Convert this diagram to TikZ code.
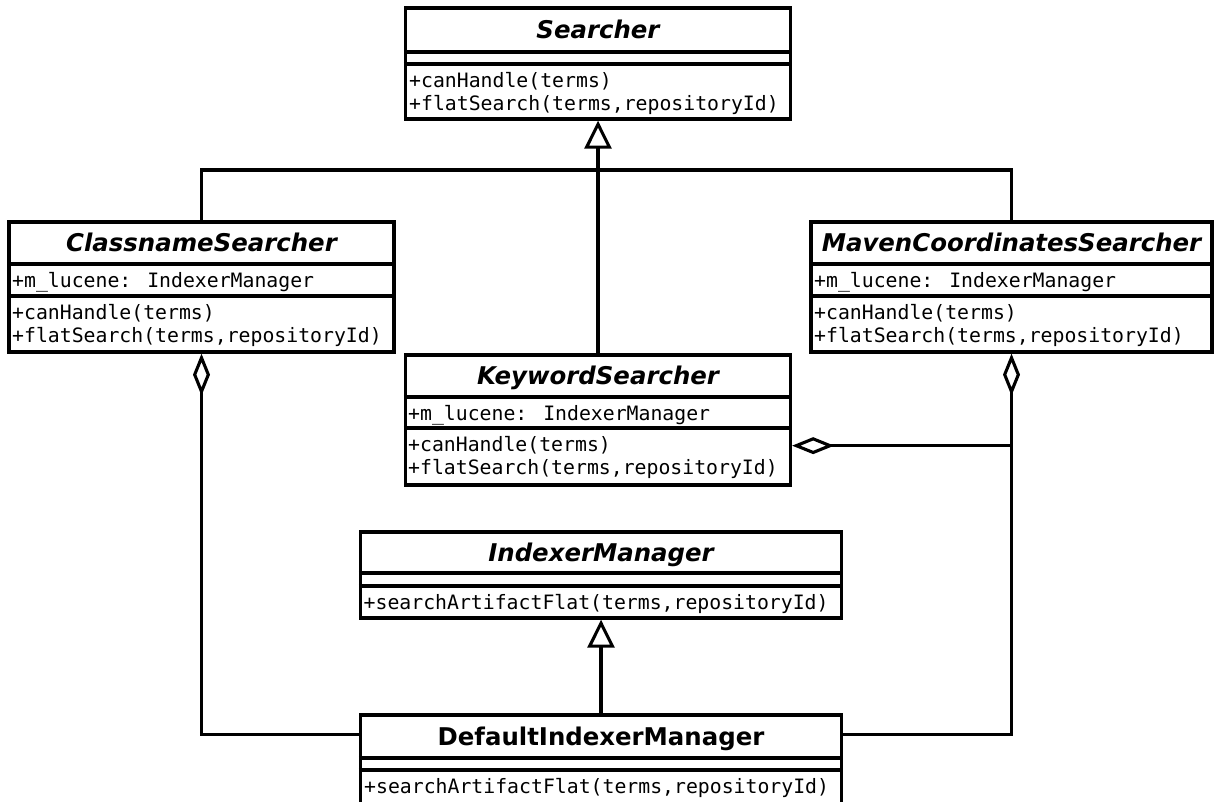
\documentclass[tikz,border=0pt]{standalone}
\usepackage{fontspec}
\setmainfont{DejaVu Sans}
\newfontfamily\memberfont{DejaVu Sans Mono}
\usetikzlibrary{arrows.meta}
\tikzset{
  cls/.style={draw, line width=3.3pt, fill=white, inner sep=0pt},
  sep/.style={line width=3.3pt},
  absname/.style={anchor=base, inner sep=0pt, font=\fontsize{24.4}{28}\selectfont\bfseries\itshape},
  conname/.style={anchor=base, inner sep=0pt, font=\fontsize{24.4}{28}\selectfont\bfseries},
  member/.style={anchor=base west, inner sep=0pt, font=\fontsize{19.8}{24}\selectfont\memberfont},
  conn/.style={line width=3.1pt},
  generalize/.style={conn, -{Triangle[open, length=28pt, width=27pt]}},
  aggregate/.style={conn, {Diamond[open, length=42pt, width=17pt]}-},
}
\begin{document}
\begin{tikzpicture}[x=1pt, y=-1pt]
\useasboundingbox (0,0) rectangle (1214,801);

% Searcher
\node[cls, minimum width=385pt, minimum height=111pt] (S) at (598,63.5) {};
\draw[sep] (S.west |- 0,52) -- (S.east |- 0,52);
\draw[sep] (S.west |- 0,64) -- (S.east |- 0,64);
\node[absname] (S-name) at (598,38.7) {Searcher};
\node[member] (S-m1) at (409,87) {+canHandle(terms)};
\node[member] (S-m2) at (409,110) {+flatSearch(terms,repositoryId)};

% ClassnameSearcher
\node[cls, minimum width=385pt, minimum height=130pt] (CS) at (201.5,287) {};
\draw[sep] (CS.west |- 0,264) -- (CS.east |- 0,264);
\draw[sep] (CS.west |- 0,296) -- (CS.east |- 0,296);
\node[absname] (CS-name) at (201.5,251.7) {ClassnameSearcher};
\node[member] (CS-a1) at (12,287) {+m\_lucene: IndexerManager};
\node[member] (CS-m1) at (12,319) {+canHandle(terms)};
\node[member] (CS-m2) at (12,342) {+flatSearch(terms,repositoryId)};

% MavenCoordinatesSearcher
\node[cls, minimum width=401pt, minimum height=130pt] (MS) at (1011.5,287) {};
\draw[sep] (MS.west |- 0,264) -- (MS.east |- 0,264);
\draw[sep] (MS.west |- 0,296) -- (MS.east |- 0,296);
\node[absname] (MS-name) at (1011.5,251.7) {MavenCoordinatesSearcher};
\node[member] (MS-a1) at (814,287) {+m\_lucene: IndexerManager};
\node[member] (MS-m1) at (814,319) {+canHandle(terms)};
\node[member] (MS-m2) at (814,342) {+flatSearch(terms,repositoryId)};

% KeywordSearcher
\node[cls, minimum width=385pt, minimum height=130pt] (KS) at (598,420) {};
\draw[sep] (KS.west |- 0,397) -- (KS.east |- 0,397);
\draw[sep] (KS.west |- 0,428) -- (KS.east |- 0,428);
\node[absname] (KS-name) at (598,384.7) {KeywordSearcher};
\node[member] (KS-a1) at (408,420) {+m\_lucene: IndexerManager};
\node[member] (KS-m1) at (408,451) {+canHandle(terms)};
\node[member] (KS-m2) at (408,474) {+flatSearch(terms,repositoryId)};

% IndexerManager
\node[cls, minimum width=481pt, minimum height=86pt] (IM) at (601,575) {};
\draw[sep] (IM.west |- 0,573) -- (IM.east |- 0,573);
\draw[sep] (IM.west |- 0,586) -- (IM.east |- 0,586);
\node[absname] (IM-name) at (601,561.2) {IndexerManager};
\node[member] (IM-m1) at (363.5,609) {+searchArtifactFlat(terms,repositoryId)};

% DefaultIndexerManager (runs on past the lower edge of the page)
\node[cls, minimum width=481pt, minimum height=94pt] (DIM) at (601,762) {};
\draw[sep] (DIM.west |- 0,758) -- (DIM.east |- 0,758);
\draw[sep] (DIM.west |- 0,770) -- (DIM.east |- 0,770);
\node[conname] (DIM-name) at (601,745.2) {DefaultIndexerManager};
\node[member] (DIM-m1) at (364,793) {+searchArtifactFlat(terms,repositoryId)};

% generalizations
\draw[conn] (CS.north) |- (598,170) -| (MS.north);
\draw[generalize] (KS.north) -- (S.south);
\draw[generalize] (DIM.north) -- (IM.south);

% aggregations
\path (DIM.north west) ++(0,21) coordinate (dimL);
\path (DIM.north east) ++(0,21) coordinate (dimR);
\path (KS.south east) ++(0,-41) coordinate (kE);
\coordinate (junction) at (MS.south |- kE);
\draw[aggregate] (CS.south) |- (dimL);
\draw[aggregate] (MS.south) |- (dimR);
\draw[aggregate] (kE) -- (junction);
\end{tikzpicture}
\end{document}
